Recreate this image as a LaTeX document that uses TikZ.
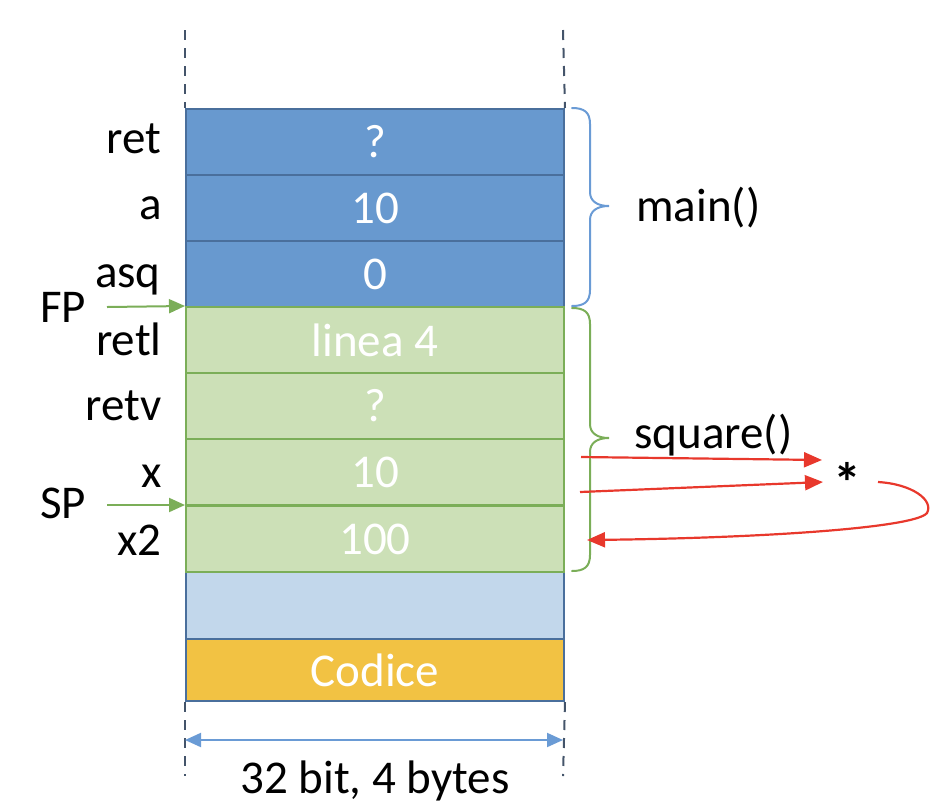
\documentclass[tikz,border=0pt]{standalone}
\usepackage{fontspec}
\setmainfont{Carlito}
\usetikzlibrary{arrows.meta}
\definecolor{cblue}{HTML}{6899CF}
\definecolor{cblueb}{HTML}{4A6F9C}
\definecolor{cgreen}{HTML}{CCE0B7}
\definecolor{cgreenb}{HTML}{7BAE58}
\definecolor{clight}{HTML}{C2D7EB}
\definecolor{cgold}{HTML}{F2C243}
\definecolor{cred}{HTML}{E8382C}
\definecolor{cgray}{HTML}{44546A}
\definecolor{cbrace}{HTML}{6A9BD5}
\newcommand{\lblfont}{\fontsize{23.5}{28}\selectfont}
\begin{document}
\begin{tikzpicture}[x=0.5pt,y=-0.5pt,
  cell/.style={draw, line width=1pt, minimum width=189pt, minimum height=33pt, inner sep=0pt, text=white, font=\lblfont, anchor=north west},
  bluecell/.style={cell, fill=cblue, draw=cblueb},
  greencell/.style={cell, fill=cgreen, draw=cgreenb},
  lbl/.style={font=\lblfont, inner sep=0pt, text=black},
  guide/.style={draw=cgray, line width=1pt, dash pattern=on 5pt off 4pt},
  ptr/.style={draw=cgreenb, line width=1pt, -{Triangle[length=8pt,width=7pt]}},
  redarr/.style={draw=cred, line width=1.1pt, -{Triangle[length=9pt,width=7.5pt]}},
  bracestyle/.style={line width=1pt, line cap=round}
]
\useasboundingbox (0,0) rectangle (948,810);

% stack
\node[bluecell] (r1) at (185,108) {?};
\node[bluecell] (r2) at (185,174) {10};
\node[bluecell] (r3) at (185,240) {0};
\node[cell, fill=clight, draw=cblueb, minimum height=33.5pt] (r8) at (185,571) {};
\node[cell, fill=cgold, draw=cblueb, minimum height=31pt] (r9) at (185,638) {Codice};
\node[greencell] (r4) at (185,306) {linea 4};
\node[greencell] (r5) at (185,372) {?};
\node[greencell] (r6) at (185,438) {10};
\node[greencell] (r7) at (185,505) {100};

% guides
\coordinate (gtl) at (185,30);
\coordinate (gtr) at (563,30);
\coordinate (gbl) at (185,776);
\coordinate (gbr) at (563,776);
\draw[guide] (gtl) -- (r1.north west);
\draw[guide] (gtr) -- (r1.north east);
\draw[guide] (r9.south west) -- (gbl);
\draw[guide] (r9.south east) -- (gbr);

% width arrow
\coordinate (wl) at (185,740);
\coordinate (wr) at (563,740);
\draw[draw=cbrace, line width=1pt, {Triangle[length=8pt,width=7pt]}-{Triangle[length=8pt,width=7pt]}] (wl) -- (wr);
\node[lbl, anchor=base] (wlabel) at (375,793) {32 bit, 4 bytes};

% left labels
\node[lbl, anchor=base east] (lret) at (162,153) {ret};
\node[lbl, anchor=base east] (la) at (162,219) {a};
\node[lbl, anchor=base east] (lasq) at (161,287) {asq};
\node[lbl, anchor=base west] (lfp) at (40,322) {FP};
\node[lbl, anchor=base east] (lretl) at (162,355) {retl};
\node[lbl, anchor=base east] (lretv) at (162,420) {retv};
\node[lbl, anchor=base east] (lx) at (162,487) {x};
\node[lbl, anchor=base west] (lsp) at (40,518) {SP};
\node[lbl, anchor=base east] (lx2) at (162,555) {x2};

% pointers
\coordinate (fps) at (107,307);
\coordinate (sps) at (107,505);
\draw[ptr] (fps) -- (r4.north west);
\draw[ptr] (sps) -- (r7.north west);

% braces
\draw[bracestyle, draw=cbrace] (572,108) .. controls (584,108) and (590,112) .. (590,124) -- (590,192) .. controls (590,201) and (597,206) .. (609,206) .. controls (597,206) and (590,211) .. (590,220) -- (590,290) .. controls (590,302) and (584,306) .. (572,306);
\draw[bracestyle, draw=cgreenb] (572,308) .. controls (584,308) and (590,312) .. (590,324) -- (590,424) .. controls (590,433) and (597,438) .. (609,438) .. controls (597,438) and (590,443) .. (590,452) -- (590,555) .. controls (590,567) and (584,571) .. (572,571);
\node[lbl, anchor=base west] (lmain) at (636,221) {main()};
\node[lbl, anchor=base west] (lsquare) at (634,448) {square()};

% multiplication
\node[lbl, font=\fontsize{28}{32}\selectfont\bfseries] (star) at (847,482) {*};
\coordinate (a1s) at (581,457);
\coordinate (a1e) at (822,460);
\coordinate (a2s) at (580,492);
\coordinate (a2e) at (823,482);
\coordinate (cs) at (878,482);
\coordinate (ce) at (587,540);
\draw[redarr] (a1s) -- (a1e);
\draw[redarr] (a2s) -- (a2e);
\draw[redarr] (cs) .. controls (912,484) and (934,500) .. (927,513) .. controls (915,528) and (760,538) .. (ce);
\end{tikzpicture}
\end{document}
